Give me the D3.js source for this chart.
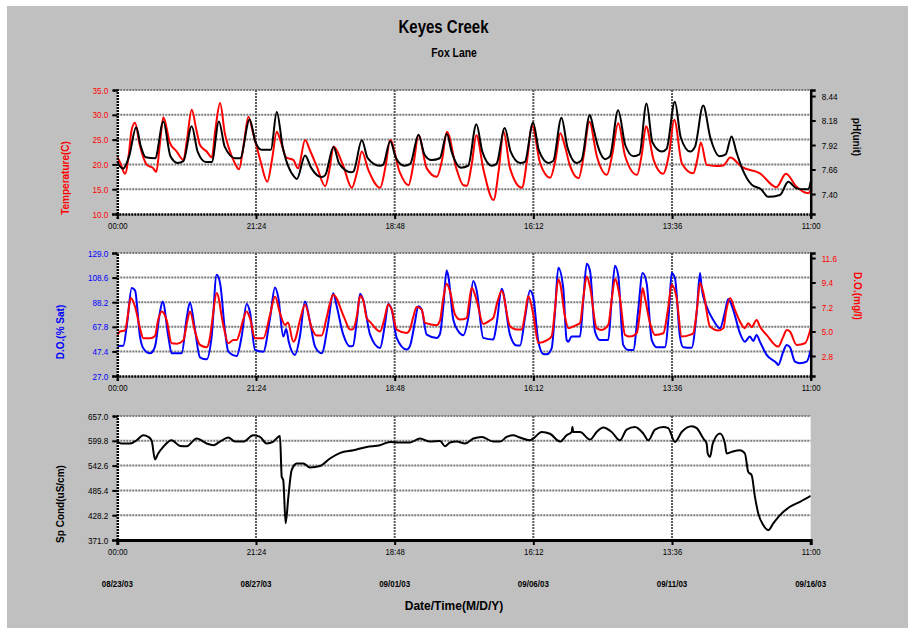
<!DOCTYPE html>
<html>
<head>
<meta charset="utf-8">
<script src="https://cdn.jsdelivr.net/npm/d3@7"></script>
<style>
  body { margin: 0; background: #fff; }
  text { font-family: "Liberation Sans", Arial, sans-serif; }
</style>
</head>
<body>
<div id="chart"></div>
<script>
// time ticks (start .. end split in 5)
const tickTimes = ["2003-08-23 00:00", "2003-08-27 21:24", "2003-09-01 18:48",
                   "2003-09-06 16:12", "2003-09-11 13:36", "2003-09-16 11:00"];

// left / right axis tick values
const tempTicks = [10, 15, 20, 25, 30, 35];
const phTicks = [7.40, 7.66, 7.92, 8.18, 8.44];
const doSatTicks = [27, 47.4, 67.8, 88.2, 108.6, 129];
const doMgTicks = [2.8, 5.0, 7.2, 9.4, 11.6];
const condTicks = [371, 428.2, 485.4, 542.6, 599.8, 657];

// series: [hours since 08/23/03 00:00, value]
const tempSeries = [[0,21.5],[3,20.0],[6.5,18.1],[10,22.5],[12,26.8],[15,28.4],[19,23.9],[25,19.9],[30,19.3],[33,18.5],
  [36,24.0],[39,29.5],[44.6,24.3],[50.3,22.6],[56,20.9],[59,25],[63,31.0],[67,26.9],[70,23.9],[75.7,22.6],[80,21.4],
  [83,27],[87,32.4],[91,26.3],[94,23.6],[99.6,20.2],[103,19.0],[107,24],[111,29.6],[115,26.3],[121,20.9],[127,16.5],
  [131,21],[135,26.6],[138,24.9],[143,21.4],[149,20.9],[153,19.2],[159,24.9],[163,22.9],[169,19.5],[176,15.6],[180,19.5],
  [183,23.6],[191,19.9],[198.5,15.3],[203,18.5],[207,22.6],[212.5,18.9],[222.5,15.3],[227,19.5],[231,24.9],[239,18.5],
  [246.5,15.8],[251,20.5],[255,25.9],[262,19.2],[270.5,17.5],[275,21],[279,26.6],[287,19.2],[293,15.8],[296,15.7],
  [300,20],[304,25.9],[310,18.9],[318.5,12.8],[323,19],[327,26.6],[332.5,19.2],[342.5,15.3],[347,21],[351,27.9],
  [358,20.2],[366.5,17.3],[371,21],[375,26.3],[379,23.6],[383,19.9],[390.5,17.2],[395,22],[399.6,28.6],[406,21.6],
  [414.5,17.9],[419,22],[424,28.3],[430,21.6],[440,17.9],[444,22],[447.6,27.7],[454,20.9],[462,18.1],[467,22],
  [471.5,29.0],[478,20.2],[487.6,18.2],[491,21],[494,24.4],[499,19.9],[507,19.7],[513,19.8],[519,21.4],[528.6,19.5],
  [544,18.2],[558,15.4],[566,18.1],[575,15.5],[585,14.2],[587,14.8]];

const phSeries = [[0,7.73],[5,7.67],[10,7.80],[16,8.11],[20,7.90],[24,7.79],[32,7.78],[39,8.17],[45,7.80],[51,7.73],
  [56,7.75],[63,8.12],[68,7.85],[75,7.74],[80,7.74],[86,8.17],[91,7.90],[100,7.78],[104,7.78],[112,8.19],[117,7.95],
  [122,7.87],[130,7.87],[135,8.27],[140,7.90],[150,7.58],[152,7.56],[159,7.81],[164,7.68],[173,7.58],[176,7.60],
  [183,7.90],[188,7.72],[198,7.63],[200,7.64],[207,7.97],[212,7.78],[222,7.70],[225,7.71],[231,7.96],[236,7.78],
  [243,7.70],[248,7.72],[255,8.03],[260,7.82],[266,7.76],[273,7.78],[279,8.04],[283,7.85],[291,7.68],[297,7.70],
  [304,8.14],[309,7.85],[317,7.70],[321,7.72],[328,8.10],[333,7.85],[341,7.73],[345,7.74],[352,8.16],[357,7.86],
  [365,7.73],[369,7.75],[376,8.21],[381,7.90],[389,7.73],[393,7.76],[400,8.24],[403,8.10],[407,7.90],[413,7.77],
  [417,7.80],[424,8.29],[430,7.92],[437,7.80],[442,7.82],[448,8.36],[453,7.95],[461,7.85],[465,7.88],[472,8.38],
  [477,8.00],[485,7.85],[489,7.90],[496,8.34],[502,8.00],[510,7.80],[515,7.82],[520,8.01],[524,7.85],[529,7.67],
  [537,7.50],[545,7.45],[551,7.37],[561,7.39],[568,7.53],[575,7.46],[582,7.45],[585,7.45],[587,7.53]];

const doSatSeries = [[0,51.9],[5.1,52],[8.2,70],[12.2,99.9],[15,98],[19.2,59.7],[22,50],[27.7,45.8],[31.9,51.4],
  [36.1,80],[38.4,88.8],[43.2,59.7],[46,45.8],[50.3,45.8],[54.5,45.8],[58.7,75],[61.5,87.9],[65.8,65],[70,42.5],
  [75.7,40.8],[79.9,60],[84.1,111],[87,104],[91.2,64],[94,47.2],[101.1,43.6],[105.3,60],[109.5,86.8],[112.3,80],
  [116.6,48.6],[123.6,47.2],[129.3,75],[133.5,100.4],[136.3,92],[140.5,59.7],[143,66],[145,56],[150.4,44.5],
  [154.6,60],[158.9,88.8],[163.1,72],[167.4,51.4],[173,45.8],[178.4,70],[182.8,95.7],[185.7,85],[191.3,61.3],
  [197,51.6],[199.5,52],[203,75],[205.5,95.2],[208.2,90],[214,61.3],[222.4,50.3],[226.6,70],[229.4,86.8],[232.3,82],
  [236.5,58.6],[245,48.9],[247.8,52],[252,72],[254.8,84.9],[257.7,82],[261.9,61.3],[270.4,58.6],[273.2,62],[276,85],
  [278.8,114.5],[280.2,110],[284.4,73.8],[288.7,64.1],[292.9,60.8],[297.1,75],[301.4,105.7],[304.2,98],[309.8,58.6],
  [318.3,57.2],[321.1,70],[325.4,99.3],[332.4,61.3],[338.1,52.2],[340.9,52.2],[345.1,75],[349.4,97.9],[352.2,92],
  [356.4,55.8],[360.6,45.3],[363.5,45],[367.7,50],[370.5,80],[373.3,116.8],[377.5,100],[380.4,56.9],[381.8,55.5],
  [384.6,59.7],[391.7,59.7],[394.5,90],[397.4,120.1],[400.2,114],[404.4,63.8],[408.6,56.9],[415.6,56.9],[418.5,90],
  [421.3,118.4],[424.1,110],[428.3,52.8],[432.6,48.6],[436.8,48.6],[440.8,80],[444.7,112.4],[448.1,104],[452.4,56.9],
  [456.6,50.9],[463.6,50.9],[467,80],[469.3,112.4],[472.1,108],[476.3,59.7],[479.1,50.9],[486.2,50.4],[490.5,80],
  [493.3,112.4],[494.7,100],[498.9,84.6],[504.5,73.5],[510.2,66.6],[514.4,80],[517.2,90.8],[521.4,81.9],[527.1,62.5],
  [531.3,55.5],[535.5,59.7],[538.4,56],[541.2,61.1],[544,55.5],[549.7,44.5],[558.2,37.6],[559.5,36.1],[563.8,47.2],
  [566.7,52.8],[569.4,51],[573.7,38.9],[577.9,37.6],[583.6,38.9],[587,48.6]];

const doMgSeries = [[0,4.69],[2.3,5.0],[6.5,5.1],[9,6.5],[11.3,8.0],[15,7.24],[19.2,5.3],[22,4.39],[27.7,4.39],
  [31.9,4.6],[34.5,6],[37.6,6.79],[41.8,6.0],[46,3.94],[50.3,3.9],[55.9,4.2],[59,5.8],[61.5,6.79],[65.8,5.0],[70,3.79],
  [75.7,3.58],[78.5,4.5],[81,6.5],[84.1,8.45],[89.7,5.59],[94,3.94],[98.2,4.24],[101.1,4.24],[103.9,5.0],[106.4,6.0],
  [109.5,6.79],[112.3,6.2],[116.6,4.39],[123.6,4.39],[129.3,6.5],[133.5,8.14],[137.7,6.65],[142,5.59],[144.5,5.8],
  [149,4.09],[150.4,4.24],[154.6,6.0],[158.9,7.39],[164.6,5.3],[168.8,4.63],[173,4.63],[176.7,6.0],[180,7.5],[182.8,8.3],
  [192.2,6.22],[197,5.17],[199.5,5.2],[203,6.5],[205.5,8.18],[208.2,7.8],[211.1,6.2],[214,5.86],[222.4,5.0],[225.8,6.0],
  [229.4,7.42],[232.3,6.97],[236.5,5.17],[245,4.87],[247.8,5.2],[250.3,6.2],[253.4,7.19],[257.7,6.97],[260.5,5.77],
  [270.4,5.57],[273.2,6.0],[275.7,7.8],[278.8,9.29],[281.7,8.6],[285.9,6.52],[290.1,6.07],[295.8,6.2],[297.7,7.5],
  [300,8.93],[304.2,7.8],[309.8,5.68],[315.5,6.0],[318.3,6.22],[321.4,7.5],[325.4,8.63],[332.4,5.48],[338.1,5.17],
  [342.3,5.17],[345.1,6.5],[347.9,8.18],[352.2,6.5],[356.4,3.97],[363.5,4.2],[367.7,4.57],[370.5,7.0],[373.3,9.67],
  [374.8,9.35],[379,6.34],[381.8,5.3],[388.9,5.59],[391.7,5.74],[394.5,8.0],[397.4,9.94],[400.2,9.0],[405.8,5.3],
  [410,5.14],[415.6,5.59],[418.7,8],[421.3,9.71],[425.5,8.0],[429.8,4.69],[434,4.54],[439.7,4.84],[442.5,6.8],
  [444.7,8.9],[446.7,8.0],[451,5.74],[455.2,4.69],[462.2,4.84],[466.2,7.0],[469.3,9.2],[473.5,8.0],[477.8,4.54],
  [484.8,4.69],[487.6,4.84],[490.7,7.0],[493.3,9.35],[496.1,8.5],[501.8,5.44],[508.9,5.08],[513.1,5.3],[515.4,6.8],
  [518.8,8.0],[523,6.9],[527.1,5.89],[531.3,5.3],[534.1,5.74],[537,5.4],[541.2,6.04],[544,5.44],[549.7,4.69],
  [559.5,3.64],[563.8,4.54],[566.7,5.14],[569.4,5.0],[575.1,3.79],[582.2,3.94],[587,5.3]];

const condSeries = [[0,599.5],[3.1,593.5],[10.8,593.5],[16.4,601],[22,612.6],[26.2,609],[29.1,600],[31.9,556.7],
  [34.5,570],[38.9,585.7],[46,601],[53.1,588],[58.7,587],[67.2,605],[75.7,593.5],[81.3,589.8],[86.9,598],[94,607.3],
  [99.6,598],[106.7,598],[115.1,612.6],[120.8,609],[126.5,593.5],[132.1,598],[137.7,611],[139.2,516.7],[140.5,509],
  [142.5,409.4],[144.8,470.6],[147.6,532],[151.9,547.5],[157.5,547.5],[163.1,538.5],[171.6,541.6],[180,559],
  [188.8,572],[199.8,578],[211.1,585.7],[222.4,589.6],[230.8,597.2],[239.3,596],[247.8,596],[256.2,605],[264.7,598],
  [273.2,599.5],[277.4,587.3],[281.6,596],[287.3,598],[294.3,593.5],[301.4,605],[308.5,608.7],[318.3,598],[324,598],
  [329.6,608.7],[335.2,612.6],[340.9,607.3],[349.4,601],[352.1,605],[359.3,620],[366.3,616],[374.8,598],[380.4,612.6],
  [384.6,620],[385.3,631.7],[386,620],[391.7,620],[400.2,602.7],[405.8,620],[411.4,630.3],[418.5,620],[425.5,601],
  [431.2,625.7],[438.2,631.7],[445.3,616.5],[449.5,601],[455.2,625.7],[462.2,631.7],[466.4,629],[472.1,597.2],
  [477.8,620],[486.2,633.3],[490.5,629],[496.1,605],[498.9,593.5],[499.8,570.5],[501.8,562.7],[504.1,593.5],
  [510.2,616.5],[514.4,593.5],[515.8,570.5],[520.1,574.2],[527.1,578],[531.3,570.5],[534.1,528.2],[537,520.6],
  [539.8,470.6],[542.6,432.4],[546.8,405.5],[551.1,394],[555.3,409.4],[561,428.5],[569.4,447.6],[577.9,459.1],[587,473]];

const width = 908;
const height = 628;
const margin = { left: 117.3, right: 810.7 };
const RED = "#ff0000", BLUE = "#0000ff", BLACK = "#000";

const parse = d3.timeParse("%Y-%m-%d %H:%M");
const xTicks = tickTimes.map(parse);
const start = xTicks[0];
const toDate = h => new Date(start.getTime() + h * 3600e3);

const x = d3.scaleTime()
    .domain([xTicks[0], xTicks[xTicks.length - 1]])
    .range([margin.left, margin.right]);

// narrow look of the original font: squeeze text horizontally
function squeeze(sel, k) {
  sel.each(function() {
    const t = d3.select(this);
    const x0 = +t.attr("x") || 0;
    t.attr("x", x0 / k).attr("transform", `scale(${k},1)`);
  });
}

const svg = d3.select("#chart").append("svg")
    .attr("width", width)
    .attr("height", height);

svg.append("rect")
    .attr("x", 7).attr("y", 6)
    .attr("width", width - 7).attr("height", height - 6)
    .attr("fill", "#c0c0c0");

const panels = [
  { top: 90, bottom: 214, solidBottom: false,
    left: { domain: [10, 35], ticks: tempTicks, fmt: ".1f", color: RED, title: "Temperature(C)", tx: 65, ty: 178 },
    right: { domain: [7.188, 8.504], ticks: phTicks, fmt: ".2f", color: BLACK, title: "pH(unit)", tx: 856, ty: 137 },
    series: [{ data: tempSeries, side: "left", color: RED }, { data: phSeries, side: "right", color: BLACK }] },
  { top: 253, bottom: 376, solidBottom: false,
    left: { domain: [27, 129], ticks: doSatTicks, fmt: ".1f", color: BLUE, title: "D.O.(% Sat)", tx: 60, ty: 332 },
    right: { domain: [1.0, 12.05], ticks: doMgTicks, fmt: ".1f", color: RED, title: "D.O.(mg/l)", tx: 857, ty: 296 },
    series: [{ data: doSatSeries, side: "left", color: BLUE }, { data: doMgSeries, side: "right", color: RED }] },
  { top: 416, bottom: 540, solidBottom: true,
    left: { domain: [371, 657], ticks: condTicks, fmt: ".1f", color: BLACK, title: "Sp Cond(uS/cm)", tx: 60, ty: 504 },
    right: null,
    series: [{ data: condSeries, side: "left", color: BLACK }] }
];

panels.forEach((p, i) => {
  const g = svg.append("g");
  const yL = d3.scaleLinear().domain(p.left.domain).range([p.bottom, p.top]);
  const yR = p.right ? d3.scaleLinear().domain(p.right.domain).range([p.bottom, p.top]) : null;

  g.append("rect")
      .attr("x", margin.left).attr("y", p.top)
      .attr("width", margin.right - margin.left).attr("height", p.bottom - p.top)
      .attr("fill", "#fff");

  // grid
  g.append("g").selectAll("line.h")
    .data(p.left.ticks.slice(1))
    .join("line")
      .attr("x1", margin.left).attr("x2", margin.right)
      .attr("y1", d => yL(d)).attr("y2", d => yL(d))
      .attr("stroke", "#7a7a7a").attr("stroke-width", 2)
      .attr("stroke-dasharray", "2,1");
  g.append("g").selectAll("line.v")
    .data(xTicks.slice(1, -1))
    .join("line")
      .attr("x1", d => x(d)).attr("x2", d => x(d))
      .attr("y1", p.top).attr("y2", p.bottom)
      .attr("stroke", "#5a5a5a").attr("stroke-width", 2)
      .attr("stroke-dasharray", "2,1");

  const clipId = "clip" + i;
  svg.append("clipPath").attr("id", clipId)
    .append("rect")
      .attr("x", margin.left).attr("y", p.top)
      .attr("width", margin.right - margin.left).attr("height", p.bottom - p.top);

  p.series.forEach(s => {
    const y = s.side === "left" ? yL : yR;
    const line = d3.line()
        .curve(d3.curveMonotoneX)
        .x(d => x(toDate(d[0])))
        .y(d => y(d[1]));
    g.append("path")
        .datum(s.data)
        .attr("clip-path", `url(#${clipId})`)
        .attr("fill", "none")
        .attr("stroke", s.color)
        .attr("stroke-width", 2)
        .attr("stroke-linejoin", "round")
        .attr("d", line);
  });

  // left axis
  const la = g.append("g")
      .attr("transform", `translate(${margin.left},0)`)
      .call(d3.axisLeft(yL).tickValues(p.left.ticks).tickFormat(d3.format(p.left.fmt)).tickSize(5).tickPadding(4));
  la.select(".domain").attr("stroke-width", 2.5).attr("stroke-dasharray", "2,1");
  la.selectAll(".tick line").attr("stroke-width", 2);
  la.selectAll("text").attr("fill", p.left.color).attr("font-size", 9.5).call(squeeze, 0.86);

  if (p.right) {
    const ra = g.append("g")
        .attr("transform", `translate(${margin.right},0)`)
        .call(d3.axisRight(yR).tickValues(p.right.ticks).tickFormat(d3.format(p.right.fmt)).tickSize(5).tickPadding(6));
    ra.select(".domain").attr("stroke-width", 2.5);
    ra.selectAll(".tick line").attr("stroke-width", 2);
    ra.selectAll("text").attr("fill", p.right.color).attr("font-size", 9.5).call(squeeze, 0.86);
    g.append("text")
        .attr("transform", `translate(${p.right.tx},${p.right.ty}) rotate(90)`)
        .attr("text-anchor", "middle")
        .attr("dy", "0.35em")
        .attr("font-size", 10).attr("font-weight", "bold")
        .attr("fill", p.right.color)
        .text(p.right.title);
  }

  // bottom axis
  const ba = g.append("g")
      .attr("transform", `translate(0,${p.bottom})`)
      .call(d3.axisBottom(x).tickValues(xTicks).tickFormat(d3.timeFormat("%H:%M")).tickSize(5).tickPadding(3));
  ba.select(".domain").attr("stroke-width", p.solidBottom ? 3 : 2.5)
      .attr("stroke-dasharray", p.solidBottom ? null : "2,1");
  ba.selectAll(".tick line").attr("stroke-width", 2);
  ba.selectAll("text").attr("font-size", 9.5).call(squeeze, 0.82);

  g.append("text")
      .attr("transform", `translate(${p.left.tx},${p.left.ty}) rotate(-90)`)
      .attr("text-anchor", "middle")
      .attr("dy", "0.35em")
      .attr("font-size", 10).attr("font-weight", "bold")
      .attr("fill", p.left.color)
      .text(p.left.title);
});

// date labels under the last panel
svg.append("g").selectAll("text")
  .data(xTicks)
  .join("text")
    .attr("x", d => x(d))
    .attr("y", 587)
    .attr("text-anchor", "middle")
    .attr("font-size", 9.5).attr("font-weight", "bold")
    .text(d3.timeFormat("%m/%d/%y"))
    .call(squeeze, 0.84);

svg.append("text")
    .attr("x", 454).attr("y", 610)
    .attr("text-anchor", "middle")
    .attr("font-size", 12).attr("font-weight", "bold")
    .text("Date/Time(M/D/Y)");

svg.append("text")
    .attr("x", 443.5).attr("y", 33)
    .attr("text-anchor", "middle")
    .attr("font-size", 19).attr("font-weight", "bold")
    .text("Keyes Creek")
    .call(squeeze, 0.79);

svg.append("text")
    .attr("x", 454).attr("y", 57)
    .attr("text-anchor", "middle")
    .attr("font-size", 13).attr("font-weight", "bold")
    .text("Fox Lane")
    .call(squeeze, 0.8);
</script>
</body>
</html>
